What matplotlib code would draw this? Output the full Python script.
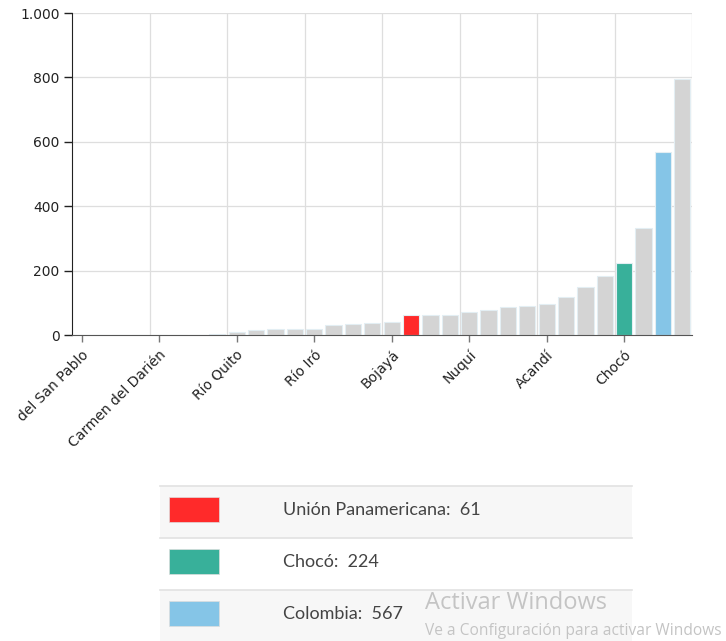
import matplotlib.pyplot as plt
from matplotlib.patches import Rectangle

# municipality labels (only every 4th one is printed on the axis)
labels = ["del San Pablo", "", "", "", "Carmen del Darién", "", "", "",
          "Río Quito", "", "", "", "Río Iró", "", "", "",
          "Bojayá", "", "", "", "Nuquí", "", "", "",
          "Acandí", "", "", "", "Chocó", "", "", ""]
values = [0, 0, 0, 0, 0, 0, 0, 4, 10, 14, 18, 18, 18, 30, 33, 36,
          39, 61, 62, 62, 70, 78, 86, 90, 97, 117, 148, 182, 224, 332, 567, 794]

highlight = {17: "#ff2a2a", 28: "#38b09a", 30: "#85c5e7"}
legend_names = ["Unión Panamericana", "Chocó", "Colombia"]
legend_values = [61, 224, 567]
legend_colors = ["#ff2a2a", "#38b09a", "#85c5e7"]

fig = plt.figure(figsize=(7.26, 6.41), dpi=100)
ax = fig.add_axes([72 / 726, 1 - 335 / 641, 620 / 726, 322 / 641])

x = list(range(len(values)))
colors = [highlight.get(i, "#d4d4d4") for i in x]
ax.bar(x, values, width=0.84, color=colors, edgecolor="#e3eef3", linewidth=0.8, zorder=2)

ax.set_xlim(-0.5, len(values) - 0.5)
ax.set_ylim(0, 1000)
ax.set_yticks([0, 200, 400, 600, 800, 1000])
ax.set_yticklabels(["0", "200", "400", "600", "800", "1.000"])
ax.set_xticks([i for i in x if labels[i]])
ax.set_xticklabels([l for l in labels if l], rotation=45, ha="right",
                   rotation_mode="anchor")

# grid: vertical lines fall between bar groups
for gx in [3.5 + 4 * k for k in range(8)]:
    ax.axvline(gx, color="#dedede", linewidth=0.9, zorder=0)
for gy in [200, 400, 600, 800, 1000]:
    ax.axhline(gy, color="#dedede", linewidth=0.9, zorder=0)

ax.spines["top"].set_visible(False)
ax.spines["right"].set_visible(False)
ax.spines["left"].set_color("#222222")
ax.spines["bottom"].set_color("#555555")
ax.tick_params(axis="y", length=6, width=1, labelsize=10, colors="#222222", pad=3)
ax.tick_params(axis="x", length=5, width=1, labelsize=10, colors="#777777",
               labelcolor="#222222", pad=4)

# legend table below the chart
W, H = 726, 641
row_tops = [486, 538, 590]
for i, top in enumerate(row_tops):
    bottom = top + 52 if i < 2 else 641
    bg = "#f7f7f7" if i != 1 else "#ffffff"
    fig.patches.append(Rectangle((160 / W, 1 - bottom / H), 472 / W, (bottom - top) / H,
                                 transform=fig.transFigure, facecolor=bg,
                                 edgecolor="none", zorder=0))
    fig.add_artist(plt.Line2D([160 / W, 632 / W], [1 - top / H, 1 - top / H],
                              color="#e2e2e2", linewidth=1.2))
    fig.patches.append(Rectangle((169 / W, 1 - (top + 36) / H), 50 / W, 25 / H,
                                 transform=fig.transFigure,
                                 facecolor=legend_colors[i], edgecolor="#dddddd",
                                 linewidth=0.5, zorder=1))
    fig.text(283 / W, 1 - (top + 24) / H, f"{legend_names[i]}:  {legend_values[i]}",
             fontsize=13, family="Lato", color="#444444",
             va="center", ha="left")

fig.text(425 / W, 1 - 603 / H, "Activar Windows", fontsize=17, family="Open Sans",
         color="#c4c4c4", va="center", ha="left")
fig.text(425 / W, 1 - 631 / H, "Ve a Configuración para activar Windows", fontsize=11.2,
         family="Open Sans", color="#c4c4c4", va="center", ha="left")

fig.savefig("out.png", dpi=100)
